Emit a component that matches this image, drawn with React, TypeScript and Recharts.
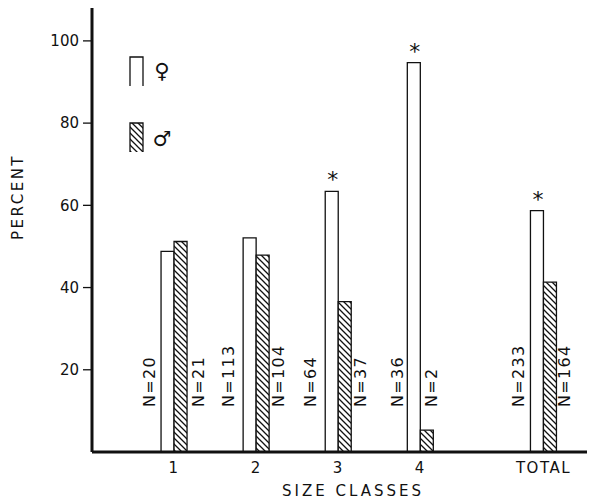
import { Bar, BarChart, LabelList, Legend, XAxis, YAxis } from "recharts"

const classes = ["1", "2", "3", "4", "TOTAL"]
const classPos = [1, 2, 3, 4, 5.5]
const femalePct = [48.8, 52.1, 63.4, 94.7, 58.7]
const malePct = [51.2, 47.9, 36.6, 5.3, 41.3]
const femaleN = [20, 113, 64, 36, 233]
const maleN = [21, 104, 37, 2, 164]
const significant = [false, false, true, true, true]
const yTicks = [20, 40, 60, 80, 100]

// label placement (px from bar edge), hand-tuned per group
const femaleGap = [12, 15, 15, 10, 12]
const maleGap = [11, 9, 9, -2, 8]

const FONT = "'DejaVu Sans', sans-serif"
const INK = "#111"

const data = classes.map((name, i) => ({
  pos: classPos[i],
  name,
  female: femalePct[i],
  male: malePct[i],
  fN: femaleN[i],
  mN: maleN[i],
}))

function NText({ cx, text }: { cx: number; text: string }) {
  const y = 407
  return (
    <text
      x={cx}
      y={y}
      transform={`rotate(-90 ${cx} ${y})`}
      textAnchor="start"
      dominantBaseline="central"
      fontFamily={FONT}
      fontSize={16}
      letterSpacing={1.3}
      fill={INK}
    >
      {text}
    </text>
  )
}

function FemaleN(props: any) {
  const { x, index } = props
  return <NText cx={x - femaleGap[index]} text={`N=${femaleN[index]}`} />
}

function MaleN(props: any) {
  const { x, width, index } = props
  return <NText cx={x + width + maleGap[index]} text={`N=${maleN[index]}`} />
}

function Star(props: any) {
  const { x, y, width, index } = props
  if (!significant[index]) return null
  return (
    <text x={x + width / 2 + 1} y={y - 4} textAnchor="middle" fontFamily={FONT} fontSize={22} fill={INK}>
      *
    </text>
  )
}

function OpenBar(props: any) {
  const { x, y, width, height, fill } = props
  if (!height) return null
  return (
    <g>
      <rect x={x} y={y} width={width} height={height} fill={fill} stroke="none" />
      <path d={`M${x},${y + height} V${y} H${x + width} V${y + height}`} fill="none" stroke={INK} strokeWidth={1.3} />
    </g>
  )
}

function Key() {
  return (
    <svg width={60} height={110} style={{ overflow: "visible" }}>
      <path d="M5,36 V7 H18 V36" fill="#fff" stroke={INK} strokeWidth={1.3} />
      <text x={37} y={21} textAnchor="middle" dominantBaseline="central" fontFamily={FONT} fontSize={21} fill={INK}>
        ♀
      </text>
      <rect x={5} y={73} width={13} height={29} fill="url(#hatch)" />
      <path d="M5,102 V73 H18 V102" fill="none" stroke={INK} strokeWidth={1.3} />
      <text x={37} y={89} textAnchor="middle" dominantBaseline="central" fontFamily={FONT} fontSize={21} fill={INK}>
        ♂
      </text>
    </svg>
  )
}

export default function App() {
  return (
    <div style={{ position: "absolute", left: 0, top: 0, background: "#fff" }}>
      <BarChart
        width={590}
        height={499}
        data={data}
        margin={{ top: 8, right: 3, bottom: 0, left: 22 }}
        barGap={0}
      >
        <defs>
          <pattern id="hatch" patternUnits="userSpaceOnUse" width={6} height={6}>
            <rect width={6} height={6} fill="#fff" />
            <path d="M-1.5,-1.5 L7.5,7.5 M-1.5,4.5 L1.5,7.5 M4.5,-1.5 L7.5,1.5" stroke={INK} strokeWidth={1.3} />
          </pattern>
        </defs>
        <XAxis
          dataKey="pos"
          type="number"
          domain={[0, 6.03]}
          ticks={classPos}
          tickFormatter={(v) => classes[classPos.indexOf(v)]}
          height={47}
          tickLine={false}
          tickSize={6}
          tickMargin={4}
          axisLine={{ stroke: INK, strokeWidth: 3 }}
          tick={{ fill: INK, fontSize: 15, fontFamily: FONT, letterSpacing: 1.5 }}
          allowDataOverflow
          label={{
            content: () => (
              <text x={353} y={491} textAnchor="middle" dominantBaseline="central" fontFamily={FONT} fontSize={15} letterSpacing={3} fill={INK}>
                SIZE CLASSES
              </text>
            ),
          }}
        />
        <YAxis
          type="number"
          domain={[0, 108]}
          ticks={yTicks}
          width={70}
          tickSize={9}
          tickMargin={4}
          tickLine={{ stroke: INK, strokeWidth: 1.3 }}
          axisLine={{ stroke: INK, strokeWidth: 3 }}
          tick={{ fill: INK, fontSize: 15, fontFamily: FONT }}
          label={{
            content: () => (
              <text x={18} y={197} transform="rotate(-90 18 197)" textAnchor="middle" dominantBaseline="central" fontFamily={FONT} fontSize={15} letterSpacing={2.5} fill={INK}>
                PERCENT
              </text>
            ),
          }}
        />
        <Legend
          layout="vertical"
          align="center"
          verticalAlign="middle"
          content={() => <Key />}
          wrapperStyle={{ left: 125, top: 50, width: 60, height: 110 }}
        />
        <Bar dataKey="female" barSize={13} fill="#fff" shape={OpenBar} isAnimationActive={false}>
          <LabelList dataKey="fN" content={FemaleN} />
          <LabelList dataKey="female" content={Star} />
        </Bar>
        <Bar dataKey="male" barSize={13} fill="url(#hatch)" shape={OpenBar} isAnimationActive={false}>
          <LabelList dataKey="mN" content={MaleN} />
        </Bar>
      </BarChart>
    </div>
  )
}
